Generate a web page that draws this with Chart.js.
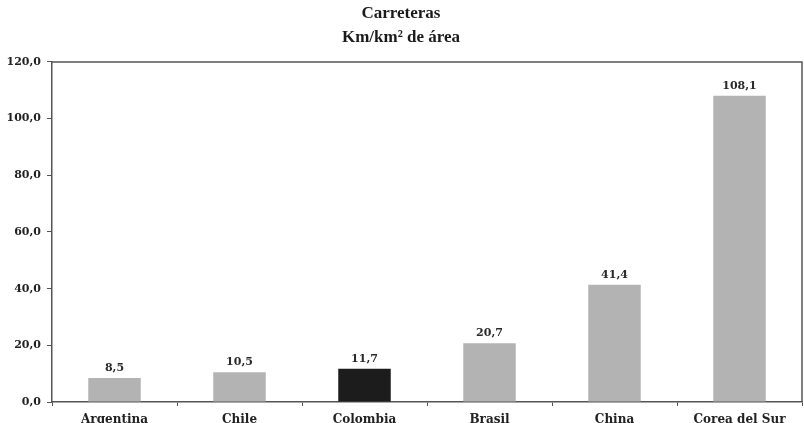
<!DOCTYPE html>
<html>
<head>
<meta charset="utf-8">
<script src="https://cdn.jsdelivr.net/npm/chart.js@4/dist/chart.umd.min.js"></script>
<style>
  html, body { margin: 0; padding: 0; background: #fff; }
  #wrap { width: 804px; height: 423px; }
</style>
</head>
<body>
<div id="wrap"><canvas id="c" width="804" height="423"></canvas></div>
<script>
const categories = ["Argentina", "Chile", "Colombia", "Brasil", "China", "Corea del Sur"];
const values = [8.5, 10.5, 11.7, 20.7, 41.4, 108.1];
const barColors = ["#b3b3b3", "#b3b3b3", "#1c1c1c", "#b3b3b3", "#b3b3b3", "#b3b3b3"];
const titleLines = ["Carreteras", "Km/km\u00B2 de \u00E1rea"];
const yMin = 0, yMax = 120, yStep = 20;

const fmt = v => v.toFixed(1).replace('.', ',');
const serif = "'Liberation Serif', 'DejaVu Serif', serif";
const wideSerif = "'DejaVu Serif', 'Liberation Serif', serif";

const framePlugin = {
  id: 'frame',
  afterDraw(chart) {
    const {ctx, chartArea: a} = chart;
    ctx.save();
    ctx.strokeStyle = '#555';
    ctx.lineWidth = 1.5;
    ctx.beginPath();
    ctx.moveTo(a.left, a.top);
    ctx.lineTo(a.right, a.top);
    ctx.lineTo(a.right, a.bottom);
    ctx.stroke();
    ctx.restore();
  }
};

const labelPlugin = {
  id: 'valueLabels',
  afterDatasetsDraw(chart) {
    const {ctx} = chart;
    const meta = chart.getDatasetMeta(0);
    ctx.save();
    ctx.font = "bold 11px " + wideSerif;
    ctx.fillStyle = '#2a2a2a';
    ctx.textAlign = 'center';
    ctx.textBaseline = 'middle';
    meta.data.forEach((el, i) => {
      ctx.fillText(fmt(values[i]), el.x, el.y - 10);
    });
    ctx.restore();
  }
};

new Chart(document.getElementById('c'), {
  type: 'bar',
  data: {
    labels: categories,
    datasets: [{
      data: values,
      backgroundColor: barColors,
      borderWidth: 0,
      barPercentage: 0.42,
      categoryPercentage: 1.0
    }]
  },
  options: {
    responsive: false,
    animation: false,
    layout: { padding: { left: 0, right: 2, top: 0, bottom: 0 } },
    plugins: {
      legend: { display: false },
      tooltip: { enabled: false },
      title: {
        display: true,
        text: titleLines,
        color: '#1a1a1a',
        font: { family: serif, size: 17, weight: 'bold', lineHeight: 1.41 },
        padding: { top: 2, bottom: 12 }
      }
    },
    scales: {
      x: {
        grid: { display: true, drawOnChartArea: false, drawTicks: true, tickLength: 4, color: '#555', offset: true },
        border: { display: true, color: '#555', width: 1.5 },
        ticks: { color: '#222', font: { family: wideSerif, size: 12, weight: 'bold' }, padding: 7, maxRotation: 0 },
        afterFit(scale) { scale.height = 21; }
      },
      y: {
        min: yMin, max: yMax,
        grid: { display: true, drawOnChartArea: false, drawTicks: true, tickLength: 5, color: '#555' },
        border: { display: true, color: '#555', width: 1.5 },
        ticks: {
          stepSize: yStep,
          color: '#222',
          font: { family: wideSerif, size: 11, weight: 'bold' },
          padding: 6,
          callback: v => fmt(v)
        },
        afterFit(scale) { scale.width = 52; }
      }
    }
  },
  plugins: [framePlugin, labelPlugin]
});
</script>
</body>
</html>
